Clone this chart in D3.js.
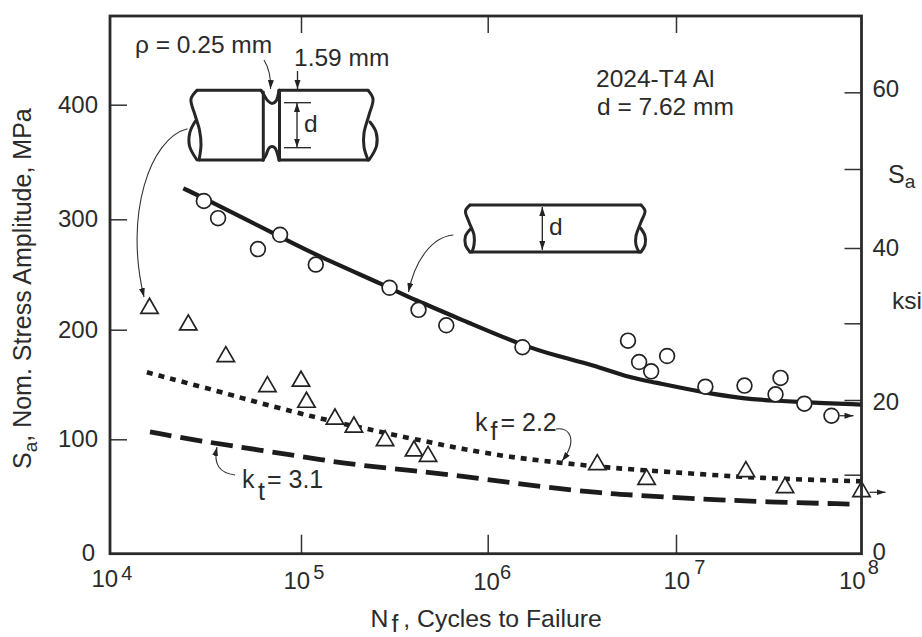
<!DOCTYPE html>
<html>
<head>
<meta charset="utf-8">
<script src="https://cdn.jsdelivr.net/npm/d3@7"></script>
<style>
	body { margin: 0; background: #fff; }
	svg { display: block; }
	text { font-family: "Liberation Sans", Arial, sans-serif; fill: #2b2b2b; }
</style>
</head>
<body>
<svg id="chart" width="922" height="637"></svg>
<script>
// values: cycles to failure, stress amplitude in MPa
const smoothN = [3.1e4, 3.68e4, 5.95e4, 7.77e4, 1.2e5, 2.98e5, 4.26e5, 6.0e5, 1.53e6, 5.56e6, 6.37e6, 7.38e6, 8.97e6, 1.44e7, 2.34e7, 3.44e7, 3.66e7, 4.92e7, 6.89e7];
const smoothS = [316, 301, 273, 286, 259, 238, 218, 204, 184, 190, 170.5, 162, 176, 148, 149, 141, 156, 132.5, 121.5];
const notchedN = [1.61e4, 2.57e4, 4.04e4, 6.67e4, 1.0e5, 1.07e5, 1.52e5, 1.92e5, 2.82e5, 4.03e5, 4.79e5, 3.82e6, 6.98e6, 2.38e7, 3.87e7, 1e8];
const notchedS = [219.4, 204.3, 175.4, 148, 153, 133.8, 118.5, 111.2, 98.8, 89.8, 85.1, 77.8, 65, 71.7, 57.7, 54.2];

const curveSmoothN = [2.42e4, 3.12e4, 7.78e4, 1.21e5, 3.02e5, 3.84e5, 8.03e5, 1.54e6, 2.42e6, 3.61e6, 5.48e6, 7.33e6, 1.43e7, 2.33e7, 3.42e7, 4.88e7, 1e8];
const curveSmoothS = [327, 318.3, 284.2, 267.4, 237.8, 228.7, 205.9, 185.3, 175.3, 167.8, 156.9, 152.7, 142.4, 137, 135.2, 133.8, 131.7];
const curveKfN = [1.56e4, 3.77e4, 5.86e4, 9.12e4, 1.24e5, 2.16e5, 4.71e5, 7.4e5, 1.31e6, 2.42e6, 4.52e6, 9.3e6, 2.12e7, 4.3e7, 1e8];
const curveKfS = [161.1, 143.4, 133.8, 125.2, 119.4, 110, 97.9, 91.4, 84.4, 79.5, 74.9, 71.4, 67.3, 65, 63.3];
const curveKtN = [1.62e4, 2.96e4, 6.1e4, 1.34e5, 2.2e5, 4.17e5, 9.1e5, 1.9e6, 4.11e6, 5.92e6, 1.24e7, 3.09e7, 8.67e7];
const curveKtS = [106.7, 98.5, 90.6, 81.6, 76.7, 72.3, 65.9, 58.6, 52.8, 51.3, 48.1, 45.2, 43.4];

const xTicks = [1e4, 1e5, 1e6, 1e7, 1e8];
const xExponents = [4, 5, 6, 7, 8];
const mpaTicks = [0, 100, 200, 300, 400];
const ksiTicks = [0, 10, 20, 30, 40, 50, 60];
const ksiLabels = [0, 20, 40, 60];

const ink = "#222";
const frame = {left: 110, right: 861.5, top: 16, bottom: 553.7};
const fontSize = 25;

const svg = d3.select("#chart");

// the decades on the original are hand drawn and not quite even, so piecewise scales
const x = d3.scaleLog().domain(xTicks).range([110, 301, 487.7, 676, 861.5]);
const y = d3.scaleLinear().domain(mpaTicks).range([553.7, 439.3, 329.7, 219.3, 104.7]);
const ksi = d3.scaleLinear().domain(ksiTicks).range([553.7, 474.7, 400, 323.3, 248, 169, 92.3]);

const defs = svg.append("defs");
defs.append("marker")
	.attr("id", "head")
	.attr("markerUnits", "userSpaceOnUse")
	.attr("markerWidth", 10).attr("markerHeight", 8)
	.attr("refX", 9).attr("refY", 3)
	.attr("orient", "auto-start-reverse")
	.append("path")
	.attr("d", "M0,0L9,3L0,6Z")
	.attr("fill", ink);

// curves first, the open markers sit on top of them
const line = d3.line()
	.x(d => x(d[0]))
	.y(d => y(d[1]))
	.curve(d3.curveBasis);

const curves = [
	{n: curveSmoothN, s: curveSmoothS, width: 4.2, dash: null},
	{n: curveKfN, s: curveKfS, width: 4.6, dash: "6 6"},
	{n: curveKtN, s: curveKtS, width: 4.8, dash: "22 9"}
];

svg.append("g").selectAll("path")
	.data(curves)
	.join("path")
	.attr("d", d => line(d3.zip(d.n, d.s)))
	.attr("fill", "none")
	.attr("stroke", "#1c1c1c")
	.attr("stroke-width", d => d.width)
	.attr("stroke-dasharray", d => d.dash);

svg.append("g").selectAll("circle")
	.data(d3.zip(smoothN, smoothS))
	.join("circle")
	.attr("cx", d => x(d[0]))
	.attr("cy", d => y(d[1]))
	.attr("r", 7.4)
	.attr("fill", "#fff")
	.attr("stroke", ink)
	.attr("stroke-width", 1.7);

const triangle = d3.symbol().type(d3.symbolTriangle).size(130);
svg.append("g").selectAll("path")
	.data(d3.zip(notchedN, notchedS))
	.join("path")
	.attr("d", triangle)
	.attr("transform", d => `translate(${x(d[0])},${y(d[1])})`)
	.attr("fill", "#fff")
	.attr("stroke", ink)
	.attr("stroke-width", 1.7);

// run-out arrows on the last point of each set
const runouts = [
	{n: smoothN[smoothN.length - 1], s: smoothS[smoothS.length - 1], from: 8, to: 22},
	{n: notchedN[notchedN.length - 1], s: notchedS[notchedS.length - 1] - 0.5, from: 8, to: 24}
];
svg.append("g").selectAll("line")
	.data(runouts)
	.join("line")
	.attr("x1", d => x(d.n) + d.from)
	.attr("x2", d => x(d.n) + d.to)
	.attr("y1", d => y(d.s))
	.attr("y2", d => y(d.s))
	.attr("stroke", ink)
	.attr("stroke-width", 1.2)
	.attr("marker-end", "url(#head)");

// axes, ticks point inward
function styleAxis(g) {
	g.select(".domain").remove();
	g.selectAll(".tick line").attr("stroke", "#333").attr("stroke-width", 1.5);
	g.selectAll(".tick text").attr("font-size", 24).attr("font-family", null).attr("fill", null);
	g.attr("font-family", null);
}

const leftAxis = svg.append("g")
	.attr("transform", `translate(${frame.left},0)`)
	.call(d3.axisLeft(y).tickValues(mpaTicks).tickSize(-17).tickPadding(12))
	.call(styleAxis);
leftAxis.selectAll(".tick").filter(d => d === 0).select("text").attr("dx", -3).attr("y", -1);

const ksiShift = {0: -2, 20: 2, 40: 0, 60: -3};
svg.append("g")
	.attr("transform", `translate(${frame.right},0)`)
	.call(d3.axisRight(ksi).tickValues(ksiTicks).tickSize(-17).tickPadding(11)
		.tickFormat(d => ksiLabels.includes(d) ? d : ""))
	.call(styleAxis)
	.selectAll(".tick text")
	.attr("y", d => ksiShift[d] || 0);

svg.append("g")
	.attr("transform", `translate(0,${frame.top})`)
	.call(d3.axisTop(x).tickValues(xTicks.slice(1, 4)).tickSize(-17).tickFormat(""))
	.call(styleAxis);

// offsets of the hand-set 10^n labels
const xNudge = [-19, -18, -15, -13, -23];
const xBase = [33.5, 35.3, 36.3, 35, 35];
const expDx = [3, 3, 0, 4, 2];
const expDy = [-7, -10, -11, -14.5, -14.5];
const xAxis = svg.append("g")
	.attr("transform", `translate(0,${frame.bottom})`)
	.call(d3.axisBottom(x).tickValues(xTicks).tickSize(-19).tickFormat(""))
	.call(styleAxis);
xAxis.selectAll(".tick").filter(d => d === 1e4 || d === 1e8).select("line").remove();
xAxis.selectAll(".tick").each(function (d, i) {
	const label = d3.select(this).append("text")
		.attr("x", xNudge[i])
		.attr("y", xBase[i])
		.attr("font-size", 24)
		.attr("text-anchor", "start");
	label.append("tspan").text("10");
	label.append("tspan")
		.attr("dx", expDx[i])
		.attr("dy", expDy[i])
		.attr("font-size", 20)
		.text(xExponents[i]);
});

svg.append("rect")
	.attr("x", frame.left).attr("y", frame.top)
	.attr("width", frame.right - frame.left)
	.attr("height", frame.bottom - frame.top)
	.attr("fill", "none")
	.attr("stroke", "#2a2a2a")
	.attr("stroke-width", 2.8);

// axis titles
const yTitle = svg.append("text")
	.attr("transform", "translate(31,469) rotate(-90)")
	.attr("font-size", fontSize);
yTitle.append("tspan").text("S");
yTitle.append("tspan").attr("font-size", 19).attr("dy", 6).text("a");
yTitle.append("tspan").attr("dy", -6).text(", Nom. Stress Amplitude, MPa");

function subscripted(px, py, size, main, sub, rest, subDx, subDy, restDx) {
	const t = svg.append("text").attr("x", px).attr("y", py).attr("font-size", size);
	t.append("tspan").text(main);
	t.append("tspan").attr("dx", subDx).attr("dy", subDy).text(sub);
	t.append("tspan").attr("dx", restDx).attr("dy", -subDy).text(rest);
}
subscripted(370.5, 627, 24.8, "N", "f", ", Cycles to Failure", 3, 5, 5);
subscripted(475, 431, fontSize, "k", "f", "= 2.2", 3, 9, 3);
subscripted(242, 488, fontSize, "k", "t", "= 3.1", 3.5, 12, 2);

// annotations
const notes = [
	{x: 135, y: 53, text: "\u03c1 = 0.25 mm"},
	{x: 294, y: 66, text: "1.59 mm"},
	{x: 596, y: 87, text: "2024-T4 Al"},
	{x: 597, y: 115, text: "d = 7.62 mm"},
	{x: 304, y: 132, text: "d"},
	{x: 549, y: 235, text: "d"},
	{x: 892, y: 309, text: "ksi"}
];
svg.append("g").selectAll("text")
	.data(notes)
	.join("text")
	.attr("x", d => d.x)
	.attr("y", d => d.y)
	.attr("font-size", 24.5)
	.text(d => d.text);

const saRight = svg.append("text").attr("x", 888).attr("y", 183).attr("font-size", fontSize);
saRight.append("tspan").text("S");
saRight.append("tspan").attr("font-size", 19).attr("dy", 5).text("a");

// specimen sketches
const sketch = d3.line().curve(d3.curveCatmullRom.alpha(0.5));
const straight = d3.line();
const specimenPaths = [
	// notched bar
	straight([[197, 90.3], [261, 90.3]]),
	sketch([[261, 90.3], [264, 95], [268, 101], [272, 103.5], [276, 101], [279, 90.3]]),
	straight([[279, 90.3], [368, 90.3]]),
	straight([[199.5, 160], [263, 160]]),
	sketch([[263, 160], [266, 155], [269, 148], [272, 146.5], [275, 148], [279, 160]]),
	straight([[279, 160], [368, 160]]),
	straight([[263.3, 92], [263.3, 160]]),
	straight([[279.5, 90.3], [279.5, 160]]),
	sketch([[197, 90.3], [191, 99], [195, 115], [199.5, 130], [201, 145], [199, 160]]),
	sketch([[195.5, 121], [190, 132], [189.5, 146], [197, 160]]),
	sketch([[368, 90.3], [373, 99], [369, 115], [364, 133], [364, 147], [368, 160]]),
	sketch([[370, 122], [376, 132], [376.5, 146], [369, 160]]),
	// plain bar
	straight([[470, 205], [641, 205]]),
	straight([[470, 252], [640, 252]]),
	sketch([[470, 205], [465.5, 211], [469, 222], [474, 235], [474, 245], [472, 252]]),
	sketch([[470.5, 229], [465.5, 236], [465.5, 245], [470, 252]]),
	sketch([[641, 205], [645, 211], [641, 222], [636, 236], [636, 245], [639, 252]]),
	sketch([[640.5, 228], [645, 236], [645, 245], [641, 252]])
];
svg.append("g").selectAll("path")
	.data(specimenPaths)
	.join("path")
	.attr("d", d => d)
	.attr("fill", "none")
	.attr("stroke", "#262626")
	.attr("stroke-width", 3)
	.attr("stroke-linecap", "round");

// dimension lines
const dimLines = [
	{d: straight([[284, 102.7], [311, 102.7]])},
	{d: straight([[284, 147.7], [311, 147.7]])},
	{d: straight([[297, 103], [297, 147.5]]), both: true},
	{d: straight([[542.3, 207], [542.3, 250]]), both: true},
	{d: straight([[297.5, 71], [297.5, 89]]), end: true}
];
svg.append("g").selectAll("path")
	.data(dimLines)
	.join("path")
	.attr("d", d => d.d)
	.attr("fill", "none")
	.attr("stroke", ink)
	.attr("stroke-width", 1.3)
	.attr("marker-start", d => d.both ? "url(#head)" : null)
	.attr("marker-end", d => d.both || d.end ? "url(#head)" : null);

// curved leaders
const leaders = [
	"M264,60C269,68 271,78 270.5,89",
	"M187.5,128.7C150,138 124,215 144,297",
	"M453.3,235C432,237 415,260 408.5,292",
	"M556,429C570,427 578,440 562,461",
	"M235,475C220,473 213,465 217,447"
];
svg.append("g").selectAll("path")
	.data(leaders)
	.join("path")
	.attr("d", d => d)
	.attr("fill", "none")
	.attr("stroke", "#333")
	.attr("stroke-width", 1.1)
	.attr("marker-end", "url(#head)");
</script>
</body>
</html>
